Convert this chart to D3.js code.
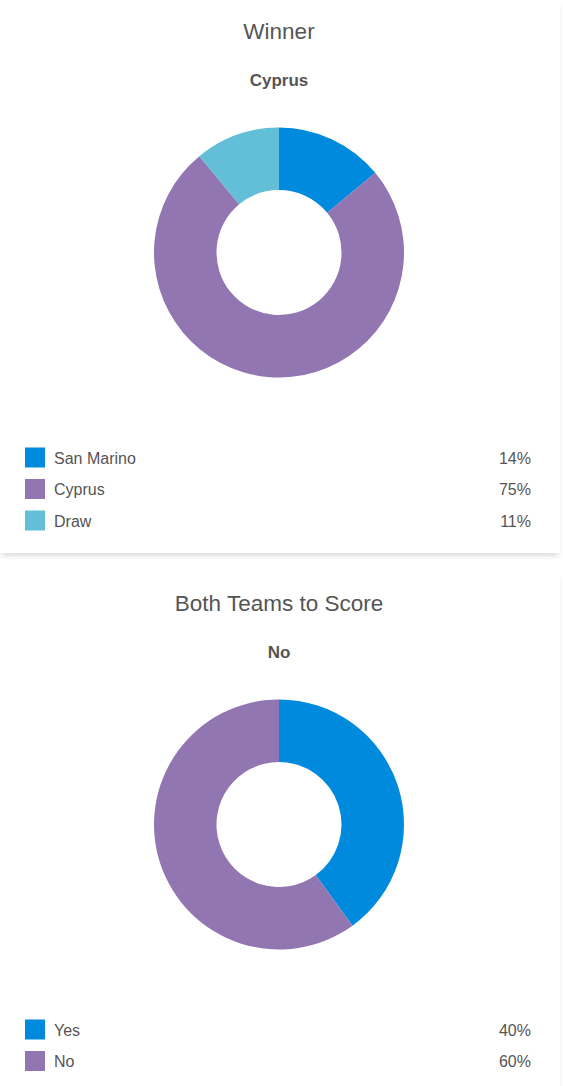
<!DOCTYPE html>
<html>
<head>
<meta charset="utf-8">
<script src="https://cdn.jsdelivr.net/npm/d3@7/dist/d3.min.js"></script>
<style>
  html, body { margin: 0; padding: 0; background: #fff; }
  body { width: 563px; overflow: hidden; font-family: "Liberation Sans", Arial, sans-serif; }
  .card {
    width: 560px;
    height: 553px;
    background: #fff;
    box-shadow: 0 4px 6px -2px rgba(0, 0, 0, 0.18);
    margin-bottom: 19px;
    position: relative;
  }
  .card svg { display: block; }
</style>
</head>
<body>
<div id="charts"></div>
<script>
// Winner market
const winnerTitle = 'Winner';
const winnerPick = 'Cyprus';
const winnerLabels = ['San Marino', 'Cyprus', 'Draw'];
const winnerValues = [14, 75, 11];
const winnerColors = ['#008ade', '#9276b1', '#62bfd7'];

// Both teams to score market
const bttsTitle = 'Both Teams to Score';
const bttsPick = 'No';
const bttsLabels = ['Yes', 'No'];
const bttsValues = [40, 60];
const bttsColors = ['#008ade', '#9276b1'];

const W = 560, H = 553;
const outerR = 125, innerR = 62.5;

function drawCard(title, pick, labels, values, colors) {
  const card = d3.select('#charts').append('div').attr('class', 'card');
  const svg = card.append('svg').attr('width', W).attr('height', H);

  svg.append('text')
    .attr('x', 279).attr('y', 39)
    .attr('text-anchor', 'middle')
    .attr('font-size', '22.5px')
    .attr('fill', '#555')
    .text(title);

  svg.append('text')
    .attr('x', 279).attr('y', 86)
    .attr('text-anchor', 'middle')
    .attr('font-size', '17px')
    .attr('font-weight', 'bold')
    .attr('fill', '#555')
    .text(pick);

  const data = labels.map((l, i) => ({ label: l, value: values[i], color: colors[i] }));
  const pie = d3.pie().sort(null).value(d => d.value);
  const arc = d3.arc().innerRadius(innerR).outerRadius(outerR);

  const g = svg.append('g').attr('transform', 'translate(279, 252.5)');
  g.selectAll('path')
    .data(pie(data))
    .join('path')
    .attr('d', arc)
    .attr('fill', d => d.data.color);

  // Legend rows
  const y = d3.scalePoint().domain(labels).range([457.5, 457.5 + 31.5 * (labels.length - 1)]);
  const rows = svg.append('g').selectAll('g.row')
    .data(data)
    .join('g')
    .attr('class', 'row')
    .attr('transform', d => `translate(0, ${y(d.label)})`);

  rows.append('rect')
    .attr('x', 25).attr('y', -10)
    .attr('width', 20).attr('height', 20)
    .attr('fill', d => d.color);

  rows.append('text')
    .attr('x', 54).attr('y', 6)
    .attr('font-size', '16px')
    .attr('fill', '#555')
    .text(d => d.label);

  rows.append('text')
    .attr('x', 531).attr('y', 6)
    .attr('text-anchor', 'end')
    .attr('font-size', '16px')
    .attr('fill', '#555')
    .text(d => d.value + '%');
}

drawCard(winnerTitle, winnerPick, winnerLabels, winnerValues, winnerColors);
drawCard(bttsTitle, bttsPick, bttsLabels, bttsValues, bttsColors);
</script>
</body>
</html>
